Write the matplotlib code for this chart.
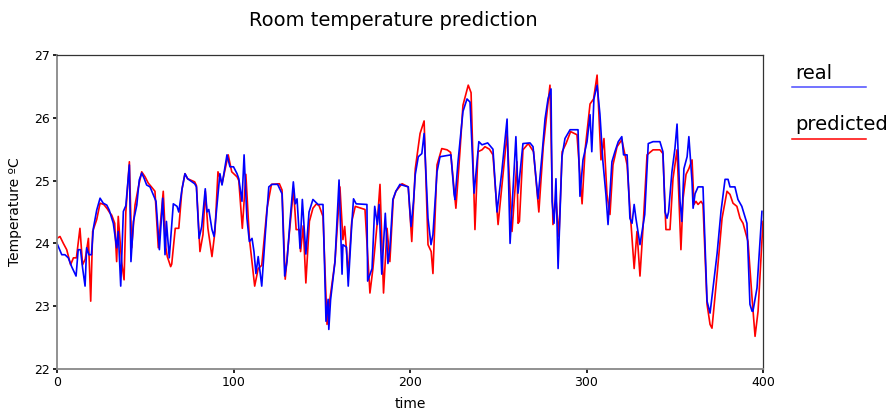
import matplotlib
matplotlib.use("Agg")
import matplotlib.pyplot as plt
from matplotlib.lines import Line2D

# serie real (knots)
t_real = [0, 2.7, 4.5, 6.4, 8.3, 10.8, 12, 13.3, 14.5, 15.9, 16.8, 18.1, 19.5, 20.6, 22.5, 24.4,
          26.2, 28.2, 29.6, 31.9, 33.8, 34.7, 36.1, 37.6, 39, 41, 41.9, 43.3, 45.2, 46.6, 48,
          49.3, 50.8, 52.7, 54.6, 56.1, 58, 59.9, 61.2, 62, 63.6, 65.9, 68, 69, 70.8, 72.5,
          74, 78, 79, 80.5, 82, 84, 85, 86, 87.8, 89, 90.6, 92.3, 93.5, 96.3, 98, 100, 102,
          103, 104.8, 106, 107.6, 109, 110.5, 111.6, 112.7, 114, 116, 118, 120, 121.8, 125,
          127.5, 129, 130.3, 132, 133.9, 135, 136, 137.7, 139, 141, 142.8, 145, 147.9, 150.7,
          152.4, 153.6, 154, 155, 157.5, 159.8, 161.5, 162, 164, 165, 167, 168, 169.5, 175.6,
          176, 178.5, 180, 181.5, 182.5, 184, 186, 187.5, 188.6, 190.3, 192, 194.3, 199, 200.6,
          202, 203, 204.7, 206.7, 208, 210.2, 211.9, 213, 215.3, 217, 223.2, 225, 225.5, 227.2,
          230, 232.3, 234, 236.3, 238, 239, 240.8, 244, 247, 249.3, 252, 255, 256.7, 260,
          261.2, 264, 268, 269.7, 272.5, 274.8, 276.5, 278.2, 279.9, 280.5, 281.6, 282.7,
          283.9, 286.1, 287.8, 290.7, 295.2, 296.3, 298, 300.3, 302, 303, 304.2, 306, 307.6,
          309.3, 311, 312.2, 314.4, 316.1, 318, 320, 321, 323, 324.6, 325.8, 327, 328, 330.3,
          333, 335, 337.7, 341.6, 343.3, 344.5, 345.6, 346.5, 348.4, 350.1, 351.3, 353, 354,
          355.2, 357, 358, 359.8, 360.4, 361.5, 363.2, 366, 368.3, 370, 374, 376.2, 377.4,
          378.5, 380.2, 381.3, 384.1, 385.8, 388, 390.9, 392.6, 393.8, 394.3, 396.6, 399.4]
real = [24.0, 23.82, 23.82, 23.77, 23.63, 23.48, 23.9, 23.9, 23.61, 23.32, 23.93, 23.82, 23.82,
        24.24, 24.53, 24.72, 24.64, 24.61, 24.53, 24.32, 23.93, 24.19, 23.32, 24.51, 24.6,
        25.25, 23.71, 24.35, 24.61, 25.01, 25.12, 25.04, 24.93, 24.9, 24.77, 24.67, 23.9,
        24.72, 23.82, 24.35, 23.77, 24.63, 24.59, 24.5, 24.86, 25.11, 25.03, 24.95, 24.9,
        24.08, 24.27, 24.87, 24.5, 24.54, 24.22, 24.11, 24.59, 25.11, 24.93, 25.41, 25.22,
        25.22, 25.11, 25.03, 24.67, 25.41, 24.4, 24.03, 24.08, 23.87, 23.52, 23.79, 23.32,
        24.14, 24.9, 24.94, 24.94, 24.79, 23.48, 23.71, 24.35, 24.98, 24.63, 24.71, 23.92,
        24.7, 23.83, 24.5, 24.7, 24.62, 24.62, 22.76, 23.11, 22.63, 23.1, 23.71, 25.01, 23.51,
        23.98, 23.94, 23.32, 24.3, 24.71, 24.63, 24.62, 23.4, 23.6, 24.59, 24.3, 24.62, 23.51,
        24.48, 23.68, 23.92, 24.7, 24.83, 24.94, 24.9, 24.27, 24.67, 25.1, 25.38, 25.43,
        25.75, 24.4, 23.98, 24.14, 25.14, 25.38, 25.41, 24.78, 24.7, 25.3, 26.1, 26.3, 26.25,
        24.8, 25.3, 25.62, 25.57, 25.6, 25.5, 24.5, 25.14, 25.98, 24.0, 25.7, 24.8, 25.59,
        25.6, 25.54, 24.71, 25.41, 25.98, 26.3, 26.46, 24.67, 24.32, 25.03, 23.6, 25.38,
        25.67, 25.81, 25.81, 24.75, 25.33, 25.62, 26.05, 25.46, 26.3, 26.52, 26.06, 25.3,
        24.78, 24.3, 25.3, 25.46, 25.62, 25.7, 25.41, 25.41, 24.4, 24.32, 24.62, 24.4, 23.98,
        24.46, 25.59, 25.62, 25.62, 25.46, 24.5, 24.4, 24.5, 25.14, 25.51, 25.9, 24.67, 24.35,
        25.19, 25.38, 25.7, 24.98, 24.56, 24.79, 24.9, 24.9, 23.08, 22.89, 23.84, 24.51, 24.78,
        25.02, 25.02, 24.9, 24.9, 24.7, 24.59, 24.32, 23.03, 22.92, 22.92, 23.29, 24.51]

# serie predicha
t_pred = [0, 1.7, 3.6, 5.5, 7.7, 9.3, 11, 13, 14.5, 16, 17.8, 19.1, 20.2, 22.5, 24.4, 26.5,
          28.5, 29.6, 31, 32.7, 33.8, 34.7, 36.6, 38, 39, 41, 42.3, 44.2, 46, 48, 49.9, 51.7,
          53.5, 55.5, 57.4, 60.2, 61.7, 62.5, 64.4, 65, 67, 69, 70.8, 72.5, 74, 78, 79, 81,
          82.7, 84, 85.5, 87.8, 89.5, 91.2, 93.5, 97, 99, 102, 103, 105, 107, 109, 112, 114,
          116, 119, 121.5, 126, 127.5, 129.3, 131, 133, 134, 135.5, 137.4, 138, 139.5, 141,
          143, 145, 147, 148.5, 150.7, 153, 154.7, 157.5, 160.3, 162, 163, 165, 167, 169, 174.5,
          177.3, 179, 181.5, 183, 185, 187, 188.6, 190.5, 192, 195.5, 199, 201, 203, 205.7,
          208, 210.2, 212, 213, 215.3, 218, 221, 223, 226, 228.3, 230, 233, 234.6, 236.8,
          238.5, 240.8, 242.5, 245, 247, 249.9, 253, 255, 257.8, 260.6, 261.2, 262, 264, 267,
          270, 273, 275.5, 279.3, 281, 282.7, 284.4, 286.2, 288.4, 291, 294.6, 297.5, 299.2,
          302, 304, 306, 308.2, 309.9, 311.6, 313.3, 315, 317.3, 320, 323, 324.6, 327, 328.6,
          330.3, 332, 334.3, 337.7, 341.6, 343.3, 345, 347.3, 349, 351.3, 353.5, 354.7, 356.4,
          358, 359.8, 360.9, 362, 363.2, 364.9, 366, 368.3, 370, 371.1, 374, 376.8, 379.6,
          381.3, 383, 385.2, 387, 388.7, 391.5, 393.8, 395.5, 397.2, 400]
pred = [24.08, 24.11, 24.0, 23.9, 23.66, 23.77, 23.77, 24.24, 23.66, 23.75, 24.08, 23.08, 24.19,
        24.38, 24.64, 24.62, 24.55, 24.5, 24.45, 24.32, 23.71, 24.43, 23.71, 23.42, 24.5, 25.3,
        23.93, 24.61, 24.88, 25.14, 25.06, 24.96, 24.9, 24.83, 23.93, 24.83, 23.93, 23.79,
        23.63, 23.67, 24.24, 24.24, 24.86, 25.11, 25.03, 24.98, 24.92, 23.87, 24.14, 24.83,
        24.24, 23.79, 24.19, 25.14, 24.95, 25.41, 25.14, 25.06, 25.0, 24.24, 25.1, 24.08,
        23.32, 23.6, 23.65, 24.56, 24.94, 24.95, 24.85, 23.43, 23.97, 24.56, 24.87, 24.22,
        24.22, 23.87, 24.28, 23.37, 24.35, 24.56, 24.63, 24.6, 24.43, 22.71, 23.13, 23.71,
        24.9, 24.06, 24.27, 23.51, 24.35, 24.59, 24.54, 23.21, 23.6, 24.35, 24.94, 23.21,
        24.24, 23.71, 24.7, 24.83, 24.95, 24.9, 24.03, 25.19, 25.75, 25.95, 23.98, 23.87,
        23.52, 25.25, 25.51, 25.49, 25.45, 24.56, 25.46, 26.2, 26.52, 26.4, 24.22, 25.46,
        25.49, 25.54, 25.5, 25.41, 24.3, 25.19, 25.75, 24.19, 25.3, 24.32, 24.35, 25.49,
        25.59, 25.46, 24.5, 25.54, 26.52, 24.3, 24.71, 24.11, 25.46, 25.59, 25.78, 25.73,
        24.63, 25.49, 26.22, 26.3, 26.68, 25.33, 25.67, 24.78, 24.46, 25.25, 25.54, 25.65,
        25.25, 24.56, 23.6, 24.19, 23.48, 24.24, 25.41, 25.49, 25.49, 25.43, 24.22, 24.22,
        25.03, 25.49, 23.9, 24.71, 25.1, 25.19, 25.33, 24.62, 24.67, 24.62, 24.67, 24.62,
        23.03, 22.71, 22.65, 23.51, 24.4, 24.83, 24.78, 24.64, 24.59, 24.4, 24.32, 24.03,
        23.13, 22.52, 22.92, 24.35]

fig = plt.figure(figsize=(8.91, 4.11), dpi=100)
ax = fig.add_axes([57/891, 1 - 369/411, 706/891, 314/411])

ax.plot(t_pred, pred, c="red", lw=1.2)
ax.plot(t_real, real, c="blue", lw=1.2)

ax.set_xlim(0, 400)
ax.set_ylim(22, 27)
ax.set_xticks([0, 100, 200, 300, 400])
ax.set_yticks([22, 23, 24, 25, 26, 27])
ax.tick_params(labelsize=9, length=3, width=1.2, pad=2)
for s in ["left", "bottom"]:
    ax.spines[s].set_color("#888888")
    ax.spines[s].set_linewidth(1.3)
for s in ["top", "right"]:
    ax.spines[s].set_color("#333333")
    ax.spines[s].set_linewidth(0.9)

ax.set_xlabel("time", fontsize=10)
ax.xaxis.set_label_coords(0.5, -0.088)
ax.set_ylabel("Temperature ºC", fontsize=10)
ax.yaxis.set_label_coords(-0.05, 0.5)
fig.text(393/891, 1 - 21/411, "Room temperature prediction", fontsize=14,
         ha="center", va="center")

# leyenda manual (texto encima de la linea)
fig.text(795/891, 1 - 79/411, "real", fontsize=14, ha="left", va="baseline")
fig.add_artist(Line2D([792/891, 866/891], [1 - 87/411, 1 - 87/411], c="blue", alpha=0.7, lw=1.1))
fig.text(795/891, 1 - 130/411, "predicted", fontsize=14, ha="left", va="baseline")
fig.add_artist(Line2D([792/891, 866/891], [1 - 139/411, 1 - 139/411], c="red", lw=1.1))

fig.savefig("out.png", dpi=100)
